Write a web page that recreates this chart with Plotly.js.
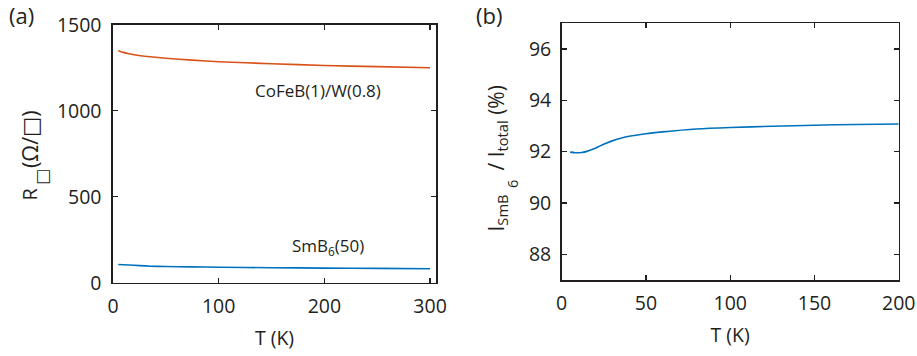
<!DOCTYPE html>
<html><head><meta charset="utf-8">
<script src="https://cdn.plot.ly/plotly-3.0.1.min.js"></script>
<style>html,body{margin:0;padding:0;background:#fff}#c{width:917px;height:356px}</style>
</head><body><div id="c"></div>
<script>
// Panel (a): sheet resistance vs temperature
const tCoFeB = [5, 10, 15, 20, 30, 50, 75, 100, 150, 200, 250, 300];
const rCoFeB = [1349, 1339, 1331, 1325, 1317, 1305, 1294, 1285, 1273, 1263, 1256, 1250];
const tSmB6 = [5, 15, 25, 35, 50, 75, 100, 150, 200, 250, 300];
const rSmB6 = [106, 103, 99, 96, 94, 92, 90, 87, 85, 83, 81];
// Panel (b): current fraction through SmB6
const tFrac = [5, 8, 12, 15, 18, 22, 26, 30, 35, 40, 50, 60, 80, 100, 125, 150, 175, 200];
const iFrac = [91.98, 91.96, 91.97, 92.01, 92.08, 92.2, 92.32, 92.42, 92.52, 92.6, 92.7, 92.77, 92.88, 92.94, 92.99, 93.03, 93.06, 93.08];
const ticksA_x = [0, 100, 200, 300];
const ticksA_y = [0, 500, 1000, 1500];
const ticksB_x = [0, 50, 100, 150, 200];
const ticksB_y = [88, 90, 92, 94, 96];

const FONT = 'Open Sans, Noto Sans, sans-serif';
const ink = '#231f20';
const W = 917, H = 356;
const fx = p => p / W, fy = p => 1 - p / H;
const TF = {family: FONT, size: 19.5, color: ink};

const axBase = {
  showline: true, linecolor: ink, linewidth: 1.6, mirror: 'ticks',
  ticks: 'inside', ticklen: 5, tickwidth: 1.4, tickcolor: ink,
  showgrid: false, zeroline: false,
  tickfont: {family: FONT, size: 19.5, color: ink}
};

const traces = [
  {x: tCoFeB, y: rCoFeB, xaxis: 'x', yaxis: 'y', mode: 'lines', line: {color: '#D95319', width: 1.6, shape: 'spline', smoothing: 0.6}},
  {x: tSmB6, y: rSmB6, xaxis: 'x', yaxis: 'y', mode: 'lines', line: {color: '#0072BD', width: 1.6, shape: 'spline', smoothing: 0.6}},
  {x: tFrac, y: iFrac, xaxis: 'x2', yaxis: 'y2', mode: 'lines', line: {color: '#0072BD', width: 1.6, shape: 'spline', smoothing: 0.6}}
];

function pa(x, y, text, opts) {
  return Object.assign({xref: 'paper', yref: 'paper', x: fx(x), y: fy(y), text: text, showarrow: false,
    xanchor: 'center', yanchor: 'middle', borderpad: 0, font: TF}, opts || {});
}
const BOXF = {family: 'DejaVu Sans, sans-serif', size: 17, color: ink};

const layout = {
  width: W, height: H, showlegend: false,
  margin: {l: 0, r: 0, t: 0, b: 0},
  paper_bgcolor: '#fff', plot_bgcolor: '#fff',
  xaxis: Object.assign({}, axBase, {domain: [fx(113), fx(436)], range: [0, 305.6], tickvals: ticksA_x, anchor: 'y',
    ticklabelstandoff: 5, title: {text: 'T (K)', font: TF, standoff: 13}}),
  yaxis: Object.assign({}, axBase, {domain: [fy(282.7), fy(24.7)], range: [0, 1500], tickvals: ticksA_y, anchor: 'x',
    ticklabelstandoff: 6}),
  xaxis2: Object.assign({}, axBase, {domain: [fx(561.7), fx(898.7)], range: [0, 200], tickvals: ticksB_x, anchor: 'y2',
    ticklabelstandoff: 5, title: {text: 'T (K)', font: TF, standoff: 13}}),
  yaxis2: Object.assign({}, axBase, {domain: [fy(280), fy(23.3)], range: [87, 97], tickvals: ticksB_y, anchor: 'x2',
    ticklabelstandoff: 5}),
  annotations: [
    pa(8, 15, '(a)', {xanchor: 'left', font: {family: FONT, size: 22, color: ink}}),
    pa(475, 15, '(b)', {xanchor: 'left', font: {family: FONT, size: 22, color: ink}}),
    // y title of panel (a)
    pa(29, 202, 'R', {textangle: -90, yanchor: 'bottom', font: {family: FONT, size: 20, color: ink}}),
    pa(42, 186, '□', {textangle: -90, yanchor: 'bottom', font: BOXF}),
    pa(29, 169, '(Ω/<span style="font-family:DejaVu Sans">□</span>)', {textangle: -90, yanchor: 'bottom', font: {family: FONT, size: 21.5, color: ink}}),
    // y title of panel (b)
    pa(496, 233, 'I<sub>SmB</sub>', {textangle: -90, yanchor: 'bottom', font: {family: FONT, size: 21, color: ink}}),
    pa(512, 184, '6', {textangle: -90, font: {family: FONT, size: 14.5, color: ink}}),
    pa(496, 172, '/ I<sub>total</sub> (%)', {textangle: -90, yanchor: 'bottom', font: {family: FONT, size: 21, color: ink}}),
    // curve labels
    {xref: 'x', yref: 'y', x: 132.5, y: 1120, xanchor: 'left', yanchor: 'middle', text: 'CoFeB(1)/W(0.8)', showarrow: false,
      font: {family: FONT, size: 17, color: ink}},
    {xref: 'x', yref: 'y', x: 167.5, y: 210, xanchor: 'left', yanchor: 'middle', text: 'SmB<sub>6</sub>(50)', showarrow: false,
      font: {family: FONT, size: 17, color: ink}}
  ]
};

Plotly.newPlot('c', traces, layout, {staticPlot: true, displayModeBar: false});
</script></body></html>
